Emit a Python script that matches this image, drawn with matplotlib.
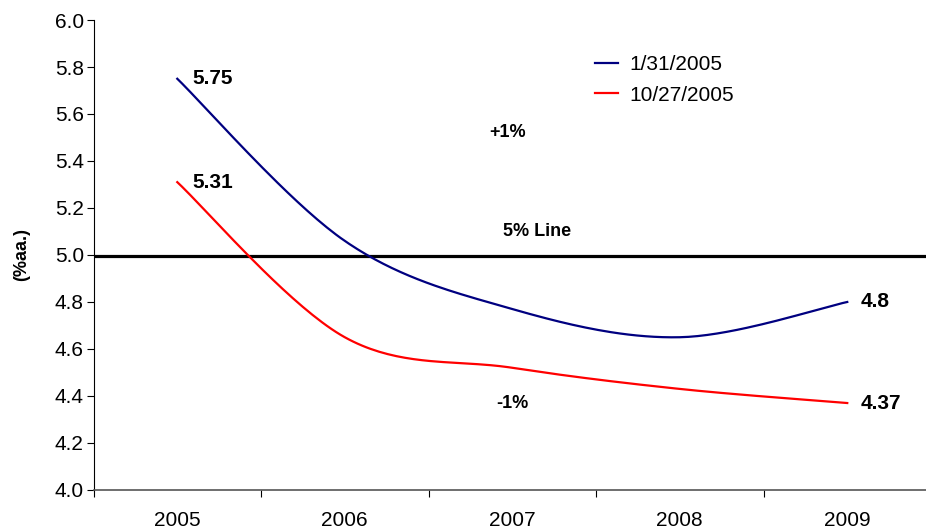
import numpy as np
import matplotlib.pyplot as plt

plt.rcParams['font.family'] = ['Liberation Sans', 'DejaVu Sans']

years = ["2005", "2006", "2007", "2008", "2009"]
jan_2005 = [5.75, 5.06, 4.77, 4.65, 4.80]
oct_2005 = [5.31, 4.65, 4.52, 4.43, 4.37]
series_names = ["1/31/2005", "10/27/2005"]
end_labels_jan = ["5.75", "4.8"]
end_labels_oct = ["5.31", "4.37"]


def smooth(x, y, n=40):
    # Excel-like smoothed line: cubic Bezier with Catmull-Rom control points
    x = np.asarray(x, float)
    y = np.asarray(y, float)
    px = np.concatenate([[x[0]], x, [x[-1]]])
    py = np.concatenate([[y[0]], y, [y[-1]]])
    xs, ys = [], []
    t = np.linspace(0, 1, n)
    for i in range(1, len(x)):
        p0 = np.array([px[i], py[i]])
        p3 = np.array([px[i + 1], py[i + 1]])
        c1 = p0 + (np.array([px[i + 1], py[i + 1]]) - np.array([px[i - 1], py[i - 1]])) / 6
        c2 = p3 - (np.array([px[i + 2], py[i + 2]]) - np.array([px[i], py[i]])) / 6
        b = ((1 - t) ** 3)[:, None] * p0 + (3 * (1 - t) ** 2 * t)[:, None] * c1 \
            + (3 * (1 - t) * t ** 2)[:, None] * c2 + (t ** 3)[:, None] * p3
        xs.extend(b[:, 0])
        ys.extend(b[:, 1])
    return np.array(xs), np.array(ys)


fig = plt.figure(figsize=(9.26, 5.32), dpi=100)
ax = fig.add_axes([0.101, 0.079, 0.9044, 0.8834])

xpos = np.arange(len(years))
bx, by = smooth(xpos, jan_2005)
rx, ry = smooth(xpos, oct_2005)
ax.plot(bx, by, color="#000080", lw=1.6, label=series_names[0])
ax.plot(rx, ry, color="#ff0000", lw=1.6, label=series_names[1])

ax.axhline(4.995, color="black", lw=2.3, zorder=1)

ax.set_xlim(-0.5, 4.5)
ax.set_ylim(4.0, 6.0)
yt = np.arange(4.0, 6.01, 0.2)
ax.set_yticks(yt)
ax.set_yticklabels([f"{v:.1f}" for v in yt], fontsize=15)
ax.set_xticks(np.arange(-0.5, 4.6, 1.0))
ax.set_xticklabels([])
ax.set_xticks(xpos, minor=True)
ax.set_xticklabels(years, minor=True, fontsize=15)
ax.tick_params(axis="x", which="minor", length=0, pad=15)
ax.tick_params(axis="x", which="major", length=5, width=0.8)
ax.tick_params(axis="y", length=5, width=0.8, pad=2)

for s in ["top", "right"]:
    ax.spines[s].set_visible(False)
ax.spines["bottom"].set_color("#555555")
ax.spines["bottom"].set_linewidth(1.2)

ax.set_ylabel("(%aa.)", fontsize=13, fontweight="bold", labelpad=18)

ax.text(0.09, jan_2005[0], end_labels_jan[0], fontsize=15, fontweight="bold", va="center")
ax.text(0.09, oct_2005[0], end_labels_oct[0], fontsize=15, fontweight="bold", va="center")
ax.text(4.08, jan_2005[-1], end_labels_jan[1], fontsize=15, fontweight="bold", va="center")
ax.text(4.08, oct_2005[-1], end_labels_oct[1], fontsize=15, fontweight="bold", va="center")

ax.text(1.97, 5.52, "+1%", fontsize=13, fontweight="bold", ha="center", va="center")
ax.text(2.15, 5.10, "5% Line", fontsize=13, fontweight="bold", ha="center", va="center")
ax.text(2.0, 4.37, "-1%", fontsize=13, fontweight="bold", ha="center", va="center")

ax.legend(loc="upper left", bbox_to_anchor=(0.589, 0.943), frameon=False, fontsize=15,
          handlelength=1.1, handletextpad=0.53, labelspacing=0.55, borderaxespad=0)

fig.savefig("out.png", dpi=100)
